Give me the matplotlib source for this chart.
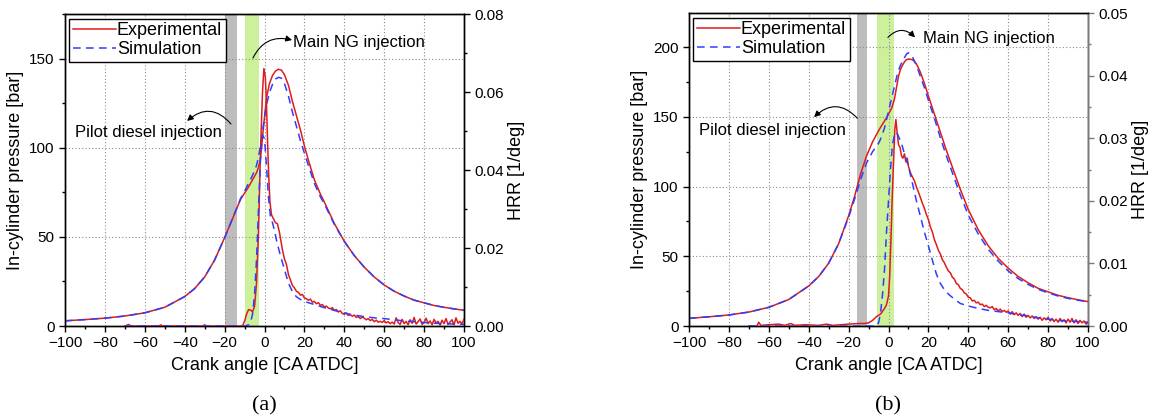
import matplotlib.pyplot as plt
from matplotlib.ticker import MultipleLocator

plt.rcParams['font.family'] = ['Liberation Sans', 'DejaVu Sans']
plt.rcParams['axes.unicode_minus'] = True

# ---------------- panel (a) data ----------------
ca_a_p = [-100, -90, -80, -70, -60, -50, -40, -35, -30, -25, -20, -15, -12, -10, -8, -6, -4,
          -3, -2, -1, 0, 1, 2.5, 4, 5.5, 7, 8.5, 10, 12, 14, 16, 18, 20, 22, 25, 28, 30, 35,
          40, 45, 50, 55, 60, 65, 70, 75, 80, 85, 90, 95, 100]
p_a_exp = [2.9, 3.6, 4.4, 5.6, 7.4, 10.5, 16.5, 21, 27.5, 37, 49.5, 63, 71, 74.5, 78, 82, 86,
           89, 94, 106, 117, 128, 136, 140.5, 143, 144, 143.5, 141, 135, 126, 118, 110, 101,
           93, 82, 74, 69.5, 57.5, 47.5, 39.5, 33, 27.5, 23, 19.5, 16.8, 14.5, 13, 11.5, 10.5,
           9.6, 8.8]
p_a_sim = [2.9, 3.6, 4.4, 5.6, 7.4, 10.5, 16.5, 21, 27.5, 37, 49.5, 63, 71.5, 75.5, 80, 84.5,
           90, 95, 101, 109, 117, 124, 131, 135.5, 138.5, 139.5, 139, 136, 129, 120, 112, 104,
           97, 90, 80, 72.5, 68.5, 57, 47.5, 39.5, 33, 27.5, 23, 19.5, 16.8, 14.5, 13, 11.5,
           10.5, 9.6, 8.8]

ca_a_hrr_exp = [-70, -68, -67, -53, -52, -51, -31, -30, -29, -12, -11, -10, -9, -8, -7, -6, -5,
                -4, -3, -2, -1, -0.3, 0.4, 1, 1.5, 2, 2.7, 3.5, 4.5, 5.5, 6.5, 7.5,
                8, 9, 10, 11, 12, 13, 14, 15, 16, 17, 18, 19, 20, 21, 22, 23, 24, 25, 26, 27,
                28, 29, 30, 31, 32, 33, 34, 35, 36, 37, 38, 39, 40, 41, 42, 43, 44, 45, 46, 47,
                48, 49, 50, 51, 52, 53, 54, 55, 56, 57, 58, 59, 60, 61, 62, 63, 64, 65, 66, 67,
                68, 69, 70, 71, 72, 73, 74, 75, 76, 77, 78, 79, 80, 81, 82, 83, 84, 85, 86, 87,
                88, 89, 90, 91, 92, 93, 94, 95, 96, 97, 98, 99, 100]
hrr_a_exp = [0, 0.0004, 0, 0, 0.0003, 0, 0, 0.0003, 0, 0, 0.0001, 0.0012, 0.003, 0.0042,
             0.0041, 0.0036, 0.005, 0.011, 0.024, 0.045, 0.060, 0.066, 0.064, 0.057, 0.048,
             0.040, 0.032, 0.0285, 0.0275, 0.0265, 0.0262, 0.024,
             0.0225, 0.0195, 0.0172, 0.0158, 0.0132, 0.0118, 0.0104, 0.0098, 0.0089, 0.0086,
             0.0079, 0.0081, 0.0072, 0.0070, 0.0066, 0.0069, 0.0061, 0.0063, 0.0057, 0.0060,
             0.0053, 0.0055, 0.0049, 0.0051, 0.0046, 0.0044, 0.0047, 0.0040, 0.0042, 0.0036,
             0.0039, 0.0032, 0.0030, 0.0034, 0.0027, 0.0029, 0.0025, 0.0028, 0.0022, 0.0024,
             0.0019, 0.0023, 0.0020, 0.0016, 0.0019, 0.0014, 0.0017, 0.0011, 0.0015, 0.0010,
             0.0012, 0.0009, 0.0014, 0.0008, 0.0011, 0.0006, 0.0010, 0.0005, 0.0021, 0.0009,
             0.0004, 0.0017, 0.0006, 0.0012, 0.0003, 0.0016, 0.0007, 0.0022, 0.0005, 0.0011,
             0.0018, 0.0004, 0.0009, 0.0020, 0.0006, 0.0013, 0.0003, 0.0017, 0.0008, 0.0012,
             0.0002, 0.0015, 0.0006, 0.0019, 0.0004, 0.0010, 0.0016, 0.0003, 0.0021, 0.0007,
             0.0012, 0.0005, 0.0018]

ca_a_hrr_sim = [-70, -10, -8, -7, -6, -5, -4, -3, -2, -1, 0, 1, 2, 3, 4, 5, 6, 8, 10, 12, 14,
                16, 18, 20, 25, 30, 35, 40, 45, 50, 55, 60, 65, 70, 75, 80, 85, 90, 95, 100]
hrr_a_sim = [0, 0, 0.0003, 0.001, 0.003, 0.008, 0.017, 0.030, 0.043, 0.049, 0.048, 0.041,
             0.033, 0.028, 0.0265, 0.0245, 0.022, 0.018, 0.0145, 0.011, 0.0088, 0.0075, 0.0068,
             0.0063, 0.0055, 0.0047, 0.004, 0.0033, 0.0028, 0.0024, 0.0021, 0.0019, 0.0016,
             0.0013, 0.0011, 0.0009, 0.0007, 0.0006, 0.0005, 0.0004]

# ---------------- panel (b) data ----------------
ca_b_p = [-100, -90, -80, -70, -60, -50, -40, -35, -30, -25, -20, -17, -14, -11, -8, -5, -4,
          -2, 0, 1.5, 2, 3, 3.5, 4.5, 5, 6, 7, 8, 9, 10, 11, 12, 13, 14, 15, 16, 17, 18, 20,
          23, 26, 29, 32, 36, 40, 45, 50, 55, 60, 65, 70, 75, 80, 85, 90, 95, 100]
p_b_exp = [5.5, 6.6, 7.9, 10, 13.4, 19, 28.7, 35.5, 45, 59, 79, 93, 109, 122, 132, 140, 142.5,
           147, 152, 156, 158, 163, 167, 175, 179, 184, 187, 189.5, 191, 191.5, 191.3, 191,
           189.7, 188, 185, 182, 178, 174, 165, 152, 139, 126, 114, 98, 83.5, 69, 57.5, 48.5,
           41.5, 35.5, 31, 27, 24.5, 22, 20.3, 18.8, 17.5]
p_b_sim = [5.5, 6.6, 7.9, 10, 13.4, 19, 28.7, 35.5, 45, 59, 78, 91, 105, 117, 125, 131, 134,
           142, 154, 163, 166, 172, 175, 181, 183, 187, 190, 192.5, 195, 196, 195, 193, 190,
           187, 183, 179, 175, 171, 162, 149, 135, 122, 110, 94, 79.5, 66, 55, 46.5, 39.5, 34,
           29.8, 26.3, 23.8, 21.5, 19.8, 18.5, 17.3]

ca_b_hrr_exp = [-70, -66, -65, -64, -60, -55, -52, -49, -47, -42, -35, -31, -28, -20, -15, -12,
                -10, -8, -6, -4, -2, -1, 0, 0.6, 1.2, 1.8, 2.5, 3.2, 3.7, 4.3, 5, 5.8, 6.5, 7.2,
                8, 8.7, 9.4, 10, 11, 12, 13, 14, 15, 16, 17, 18, 19, 20, 21, 22, 23, 24, 25, 26,
                27, 28, 29, 30, 31, 32, 33, 34, 35, 36, 37, 38, 39, 40, 41, 42, 43, 44, 45, 46,
                47, 48, 49, 50, 51, 52, 53, 54, 55, 56, 57, 58, 59, 60, 61, 62, 63, 64, 65, 66,
                67, 68, 69, 70, 71, 72, 73, 74, 75, 76, 77, 78, 79, 80, 81, 82, 83, 84, 85, 86,
                87, 88, 89, 90, 91, 92, 93, 94, 95, 96, 97, 98, 99, 100]
hrr_b_exp = [0, 0, 0.0006, 0.0001, 0.0002, 0.0003, 0.0001, 0.0004, 0.0001, 0.0002, 0.0001,
             0.0003, 0.0001, 0.0003, 0.0004, 0.0004, 0.0005, 0.0009, 0.0015, 0.0019, 0.0028,
             0.0034, 0.0048, 0.008, 0.0135, 0.020, 0.026, 0.0315, 0.033, 0.031, 0.029, 0.0285,
             0.0272, 0.0268, 0.0275, 0.0262, 0.0268, 0.0255, 0.0245,
             0.0238, 0.0232, 0.0222, 0.0214, 0.0205, 0.0196, 0.0188, 0.0178, 0.0170, 0.0158,
             0.0150, 0.0138, 0.0130, 0.0121, 0.0115, 0.0106, 0.0101, 0.0094, 0.0088, 0.0085,
             0.0078, 0.0075, 0.0068, 0.0066, 0.0060, 0.0058, 0.0053, 0.0051, 0.0046, 0.0045,
             0.0040, 0.0041, 0.0037, 0.0038, 0.0034, 0.0035, 0.0031, 0.0033, 0.0030, 0.0029,
             0.0031, 0.0026, 0.0028, 0.0024, 0.0027, 0.0023, 0.0025, 0.0022, 0.0024, 0.0019,
             0.0023, 0.0018, 0.0021, 0.0017, 0.0020, 0.0015, 0.0019, 0.0014, 0.0017, 0.0013,
             0.0016, 0.0012, 0.0015, 0.0011, 0.0014, 0.0009, 0.0013, 0.0010, 0.0014, 0.0008,
             0.0012, 0.0007, 0.0011, 0.0006, 0.0012, 0.0007, 0.0010, 0.0005, 0.0011, 0.0006,
             0.0012, 0.0005, 0.0010, 0.0004, 0.0009, 0.0005, 0.0008, 0.0003, 0.0006]

ca_b_hrr_sim = [-70, -6, -5, -4, -3, -2, -1, 0, 1, 2, 3, 4, 5, 6.5, 8, 10, 12, 14, 16, 18, 20,
                22, 24, 26, 28, 30, 33, 36, 40, 45, 50, 55, 60, 65, 70, 75, 80, 85, 90, 95, 100]
hrr_b_sim = [0, 0, 0.0005, 0.002, 0.005, 0.009, 0.015, 0.020, 0.025, 0.029, 0.0305, 0.031,
             0.0303, 0.0292, 0.0275, 0.0255, 0.0228, 0.020, 0.0175, 0.015, 0.0128, 0.0105,
             0.0083, 0.0068, 0.0058, 0.0051, 0.0043, 0.0036, 0.0032, 0.0028, 0.0025, 0.0023,
             0.0021, 0.0018, 0.0016, 0.0013, 0.0011, 0.0009, 0.0008, 0.0007, 0.0006]

red = '#e01b1b'
blue = '#2f3dff'
grey_band = '#bdbdbd'
green_band = '#cdf09c'


def draw_panel(rect, ca_p, p_exp, p_sim, ca_he, h_exp, ca_hs, h_sim,
               p_max, p_step, h_max, h_step, pilot_band, main_band, tag, right_color):
    ax = fig.add_axes(rect)
    ax2 = ax.twinx()

    ax.axvspan(*pilot_band, color=grey_band, lw=0, zorder=0)
    ax.axvspan(*main_band, color=green_band, lw=0, zorder=0)

    l1, = ax.plot(ca_p, p_exp, color=red, lw=1.1, label='Experimental', zorder=3)
    l2, = ax.plot(ca_p, p_sim, color=blue, lw=1.1, ls=(0, (5, 3.5)), label='Simulation', zorder=3)
    ax2.plot(ca_he, h_exp, color=red, lw=1.1, zorder=3)
    ax2.plot(ca_hs, h_sim, color=blue, lw=1.1, ls=(0, (5, 3.5)), zorder=3)

    ax.set_xlim(-100, 100)
    ax.set_ylim(0, p_max)
    ax2.set_ylim(0, h_max)
    ax.xaxis.set_major_locator(MultipleLocator(20))
    ax.xaxis.set_minor_locator(MultipleLocator(10))
    ax.yaxis.set_major_locator(MultipleLocator(p_step))
    ax.yaxis.set_minor_locator(MultipleLocator(p_step / 2))
    ax2.yaxis.set_major_locator(MultipleLocator(h_step))
    ax2.yaxis.set_minor_locator(MultipleLocator(h_step / 2))
    ax2.yaxis.set_major_formatter(lambda v, pos: f'{v:.2f}')

    ax.grid(True, which='major', ls=(0, (1, 2)), color='#8c8c8c', lw=0.8)
    ax.set_axisbelow(True)

    for a in (ax, ax2):
        a.tick_params(which='major', length=4, width=1, labelsize=11, direction='out')
        a.tick_params(which='minor', length=2.5, width=1, direction='out')
        for s in a.spines.values():
            s.set_linewidth(1.0)
    ax2.spines['right'].set_color(right_color)
    ax2.tick_params(axis='y', which='both', color=right_color)

    ax.set_xlabel('Crank angle [CA ATDC]', fontsize=13, labelpad=5)
    ax.set_ylabel('In-cylinder pressure [bar]', fontsize=13, labelpad=4)
    ax2.set_ylabel('HRR [1/deg]', fontsize=13, labelpad=3)

    leg = ax2.legend([l1, l2], ['Experimental', 'Simulation'], loc='upper left',
                     bbox_to_anchor=(0.01, 0.985), fontsize=13, frameon=True, fancybox=False,
                     edgecolor='black', framealpha=1, handlelength=2.4, handletextpad=0.05,
                     borderpad=0.2, labelspacing=0.12, borderaxespad=0)
    leg.get_frame().set_linewidth(1.0)

    ax.text(0.5, -0.255, tag, transform=ax.transAxes, ha='center', va='center',
            fontsize=16, family='Liberation Serif')
    return ax


fig = plt.figure(figsize=(11.49, 4.19), dpi=100)

ax_a = draw_panel([65 / 1149, 93 / 419, 399 / 1149, 312 / 419],
                  ca_a_p, p_a_exp, p_a_sim, ca_a_hrr_exp, hrr_a_exp, ca_a_hrr_sim, hrr_a_sim,
                  175, 50, 0.08, 0.02, (-20, -14), (-10, -3), '(a)', 'black')
ax_a.text(14.3, 159, 'Main NG injection', fontsize=12, ha='left', va='center', zorder=5)
ax_a.annotate('', xy=(13.8, 160.4), xytext=(-5.8, 150.3),
              arrowprops=dict(arrowstyle='-|>', connectionstyle='arc3,rad=-0.4', color='black',
                              lw=0.8, shrinkA=0, shrinkB=0, mutation_scale=9), zorder=5)
ax_a.text(-95, 108.8, 'Pilot diesel injection', fontsize=12, ha='left', va='center', zorder=5)
ax_a.annotate('', xy=(-38.8, 115), xytext=(-16.8, 113.3),
              arrowprops=dict(arrowstyle='-|>', connectionstyle='arc3,rad=0.5', color='black',
                              lw=0.8, shrinkA=0, shrinkB=0, mutation_scale=9), zorder=5)

ax_b = draw_panel([689 / 1149, 93 / 419, 399 / 1149, 313 / 419],
                  ca_b_p, p_b_exp, p_b_sim, ca_b_hrr_exp, hrr_b_exp, ca_b_hrr_sim, hrr_b_sim,
                  224.5, 50, 0.05, 0.01, (-16, -11), (-6, 3), '(b)', '#7a7a7a')
ax_b.text(17.3, 206, 'Main NG injection', fontsize=12, ha='left', va='center', zorder=5)
ax_b.annotate('', xy=(13.3, 207), xytext=(-0.3, 207),
              arrowprops=dict(arrowstyle='-|>', connectionstyle='arc3,rad=-0.5', color='black',
                              lw=0.8, shrinkA=0, shrinkB=0, mutation_scale=9), zorder=5)
ax_b.text(-95, 140, 'Pilot diesel injection', fontsize=12, ha='left', va='center', zorder=5)
ax_b.annotate('', xy=(-37.3, 149.8), xytext=(-15.6, 149),
              arrowprops=dict(arrowstyle='-|>', connectionstyle='arc3,rad=0.5', color='black',
                              lw=0.8, shrinkA=0, shrinkB=0, mutation_scale=9), zorder=5)

fig.savefig('out.png', dpi=100)
